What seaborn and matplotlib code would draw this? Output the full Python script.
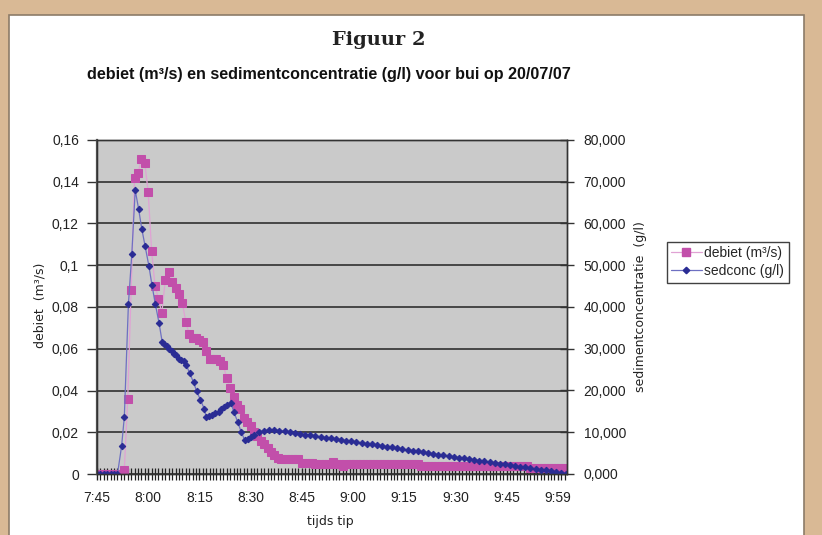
import matplotlib
matplotlib.use('Agg')
import matplotlib.pyplot as plt
import seaborn as sns
from matplotlib.patches import Rectangle
from matplotlib.ticker import FixedLocator, MultipleLocator, FuncFormatter
from matplotlib.lines import Line2D

# ---------------- data ----------------
# minutes after 7:45
debiet_time = list(range(138))
debiet = [0, 0, 0, 0, 0, 0, 0, 0,
          0.002, 0.036, 0.088, 0.142, 0.144, 0.151, 0.149, 0.135, 0.107, 0.090,
          0.084, 0.077, 0.093, 0.097, 0.092, 0.089, 0.086, 0.082, 0.073, 0.067,
          0.065, 0.065, 0.064, 0.063, 0.059, 0.055, 0.055, 0.055, 0.054, 0.052,
          0.046, 0.041, 0.037, 0.033, 0.031, 0.027, 0.025, 0.023, 0.020, 0.018,
          0.016, 0.0145, 0.0125, 0.0105, 0.009, 0.0078,
          0.0072, 0.0072, 0.0072, 0.0072, 0.0072, 0.0072,
          0.0055, 0.0055, 0.0055, 0.0055,
          0.0046, 0.0046, 0.0046, 0.0046, 0.0046,
          0.0058, 0.0046, 0.0046, 0.0036,
          0.0046, 0.0046, 0.0046, 0.0046, 0.0046, 0.0046, 0.0046, 0.0046, 0.0046, 0.0046, 0.0046,
          0.0046, 0.0046, 0.0046, 0.0046, 0.0046, 0.0046, 0.0046, 0.0046, 0.0046, 0.0046, 0.0046,
          0.0036, 0.0036, 0.0036, 0.0036, 0.0036, 0.0036, 0.0036, 0.0036, 0.0036, 0.0036, 0.0036,
          0.0036, 0.0036, 0.0036, 0.0036, 0.0036, 0.0036, 0.0036, 0.0036, 0.0036, 0.0036, 0.0036,
          0.0036, 0.0036, 0.0036, 0.0036, 0.0036, 0.0036, 0.0036, 0.0036, 0.0036, 0.0036,
          0.0027, 0.0027, 0.0027, 0.0027, 0.0027, 0.0027, 0.0027, 0.0027, 0.0027, 0.0027, 0.0027]

sed_time = [0, 1, 2, 3, 4, 5, 6, 7.2, 8.0, 9.2, 10.2, 11.2, 12.2, 13.1, 14.1, 15.2,
            16.1, 17.1, 18.2, 19.1, 19.7, 20.4, 21.2, 21.9, 22.6, 23.2, 24.1, 24.7,
            25.4, 26.1, 27.2, 28.3, 29.2, 30.3, 31.4, 32.0, 32.9, 33.8, 34.7, 35.6,
            36.4, 37.3, 38.2, 39.3, 40.1, 41.2, 42.2, 43.3, 44.1, 45.1, 46.1, 47.6,
            49.0, 50.5, 51.9, 53.4, 55.0, 56.5, 58.0, 59.5, 61.0, 62.5, 64.0, 65.5,
            67.0, 68.5, 70.0, 71.5, 73.0, 74.5, 76.0, 77.5, 79.0, 80.5, 82.0, 83.5,
            85.0, 86.5, 88.0, 89.5, 91.0, 92.5, 94.0, 95.5, 97.0, 98.5, 100.0, 101.5,
            103.0, 104.5, 106.0, 107.5, 109.0, 110.5, 112.0, 113.5, 115.0, 116.5,
            118.0, 119.5, 121.0, 122.5, 124.0, 125.5, 127.0, 128.5, 130.0, 131.5,
            133.0, 134.5, 136.0, 137.5]
sedconc = [0, 0, 0, 0, 0, 0, 0, 6.64, 13.6, 40.64, 52.72, 68.0, 63.44, 58.8, 54.56,
           49.84, 45.28, 40.64, 36.08, 31.6, 31.04, 30.56, 30.0, 29.36, 28.8, 28.4,
           27.6, 27.2, 26.96, 26.16, 24.08, 21.92, 19.84, 17.76, 15.68, 13.6, 13.92,
           14.24, 14.56, 14.96, 15.52, 16.0, 16.48, 16.96, 14.8, 12.56, 10.16, 8.08,
           8.5, 8.9, 9.4, 10.0, 10.24, 10.55, 10.63, 10.39, 10.24, 10.05, 9.85, 9.66,
           9.46, 9.3, 9.1, 8.93, 8.72, 8.56, 8.33, 8.17, 7.98, 7.8, 7.62, 7.45, 7.25,
           7.1, 6.89, 6.72, 6.51, 6.35, 6.14, 5.96, 5.78, 5.59, 5.4, 5.24, 5.02, 4.86,
           4.66, 4.48, 4.3, 4.11, 3.94, 3.75, 3.58, 3.39, 3.21, 3.03, 2.85, 2.66, 2.49,
           2.3, 2.11, 1.94, 1.75, 1.57, 1.38, 1.2, 1.02, 0.84, 0.65, 0.47, 0.28, 0.09]

x_ticks = [0, 15, 30, 45, 60, 75, 90, 105, 120, 135]
x_tick_labels = ['7:45', '8:00', '8:15', '8:30', '8:45', '9:00', '9:15', '9:30', '9:45', '9:59']
left_ticks = [0, 0.02, 0.04, 0.06, 0.08, 0.1, 0.12, 0.14, 0.16]
right_ticks = [0, 10, 20, 30, 40, 50, 60, 70, 80]

# ---------------- style ----------------
sns.set_theme(style='white')
plt.rcParams['font.family'] = ['Liberation Sans', 'DejaVu Sans']

W, H = 822, 535
fig = plt.figure(figsize=(W / 100, H / 100), dpi=100, facecolor='#D9B995')
fig.patches.append(Rectangle((9 / W, -0.01), (804 - 9) / W, 1.01 - 15 / H, transform=fig.transFigure,
                             facecolor='white', edgecolor='#8C7B68', linewidth=1.2, zorder=-1))

ax = fig.add_axes([97 / W, 1 - 474 / H, (567 - 97) / W, (474 - 140) / H])
ax.set_facecolor('#CACACA')
ax2 = ax.twinx()

pink = '#C24FAA'
pink_line = '#E0A2D4'
blue = '#2A2C94'
blue_line = '#6E70C2'

sns.lineplot(x=debiet_time, y=debiet, ax=ax, color=pink_line, linewidth=0.9, marker='s',
             markersize=6, markerfacecolor=pink, markeredgecolor=pink, sort=False, legend=False)
sns.lineplot(x=sed_time, y=sedconc, ax=ax2, color=blue_line, linewidth=0.9, marker='D',
             markersize=3.3, markerfacecolor=blue, markeredgecolor=blue, sort=False, legend=False)

ax.set_xlim(0, 137.7)
ax.set_ylim(0, 0.16)
ax2.set_ylim(0, 80)

ax.yaxis.set_major_locator(FixedLocator(left_ticks))
ax.yaxis.set_major_formatter(FuncFormatter(lambda v, p: ('%g' % round(v, 3)).replace('.', ',')))
ax2.yaxis.set_major_locator(FixedLocator(right_ticks))
ax2.yaxis.set_major_formatter(FuncFormatter(lambda v, p: ('%.3f' % v).replace('.', ',')))
ax.xaxis.set_major_locator(FixedLocator(x_ticks))
ax.set_xticklabels(x_tick_labels)
ax.xaxis.set_minor_locator(MultipleLocator(1))

ax.grid(axis='y', color='#222222', linewidth=1.1)
ax.grid(axis='x', visible=False)
ax2.grid(False)
ax.set_axisbelow(True)

for a in (ax, ax2):
    for s in a.spines.values():
        s.set_color('#333333')
        s.set_linewidth(1.0)
ax.spines['left'].set_color('#555555')
ax.spines['left'].set_linewidth(1.6)

ax.tick_params(axis='y', which='major', direction='out', length=7, width=1, color='#333333',
               labelsize=10, labelcolor='#222222', pad=6, left=True)
ax.tick_params(axis='x', which='major', direction='inout', length=8, width=1, color='#222222',
               labelsize=10, labelcolor='#222222', pad=8, bottom=True)
ax.tick_params(axis='x', which='minor', direction='inout', length=8, width=0.9, color='#222222',
               bottom=True)
ax2.tick_params(axis='y', which='major', direction='inout', length=10, width=1, color='#333333',
                labelsize=10, labelcolor='#222222', pad=7, right=True)

ax.set_xlabel('')
ax.set_ylabel('')
ax2.set_ylabel('')

# ---------------- texts ----------------
fig.text(379 / W, 1 - 40 / H, 'Figuur 2', ha='center', va='center', family='DejaVu Serif',
         weight='bold', size=14, color='#222222')
fig.text(87 / W, 1 - 75 / H, 'debiet (m³/s) en sedimentconcentratie (g/l) voor bui op 20/07/07',
         ha='left', va='center', weight='bold', size=11.6, color='#111111')
fig.text(40 / W, 1 - 305 / H, 'debiet  (m³/s)', rotation=90, ha='center', va='center',
         family='DejaVu Sans', size=9, color='#222222')
fig.text(640 / W, 1 - 307 / H, 'sedimentconcentratie  (g/l)', rotation=90, ha='center',
         va='center', family='DejaVu Sans', size=9, color='#222222')
fig.text(330 / W, 1 - 522 / H, 'tijds tip', ha='center', va='center', family='DejaVu Sans',
         size=9, color='#222222')

handles = [Line2D([], [], color=pink_line, marker='s', markersize=6, markerfacecolor=pink,
                  markeredgecolor=pink, linewidth=0.9),
           Line2D([], [], color=blue_line, marker='D', markersize=3.3, markerfacecolor=blue,
                  markeredgecolor=blue, linewidth=0.9)]
leg = fig.legend(handles, ['debiet (m³/s)', 'sedconc (g/l)'], loc='upper left',
                 bbox_to_anchor=(667 / W, 1 - 242 / H), frameon=True, fancybox=False,
                 fontsize=10, handlelength=2.2, handletextpad=0.2, borderpad=0.3,
                 labelspacing=0.3, borderaxespad=0)
leg.get_frame().set_edgecolor('#111111')
leg.get_frame().set_linewidth(1.0)

fig.savefig('out.png', dpi=100, facecolor=fig.get_facecolor())
